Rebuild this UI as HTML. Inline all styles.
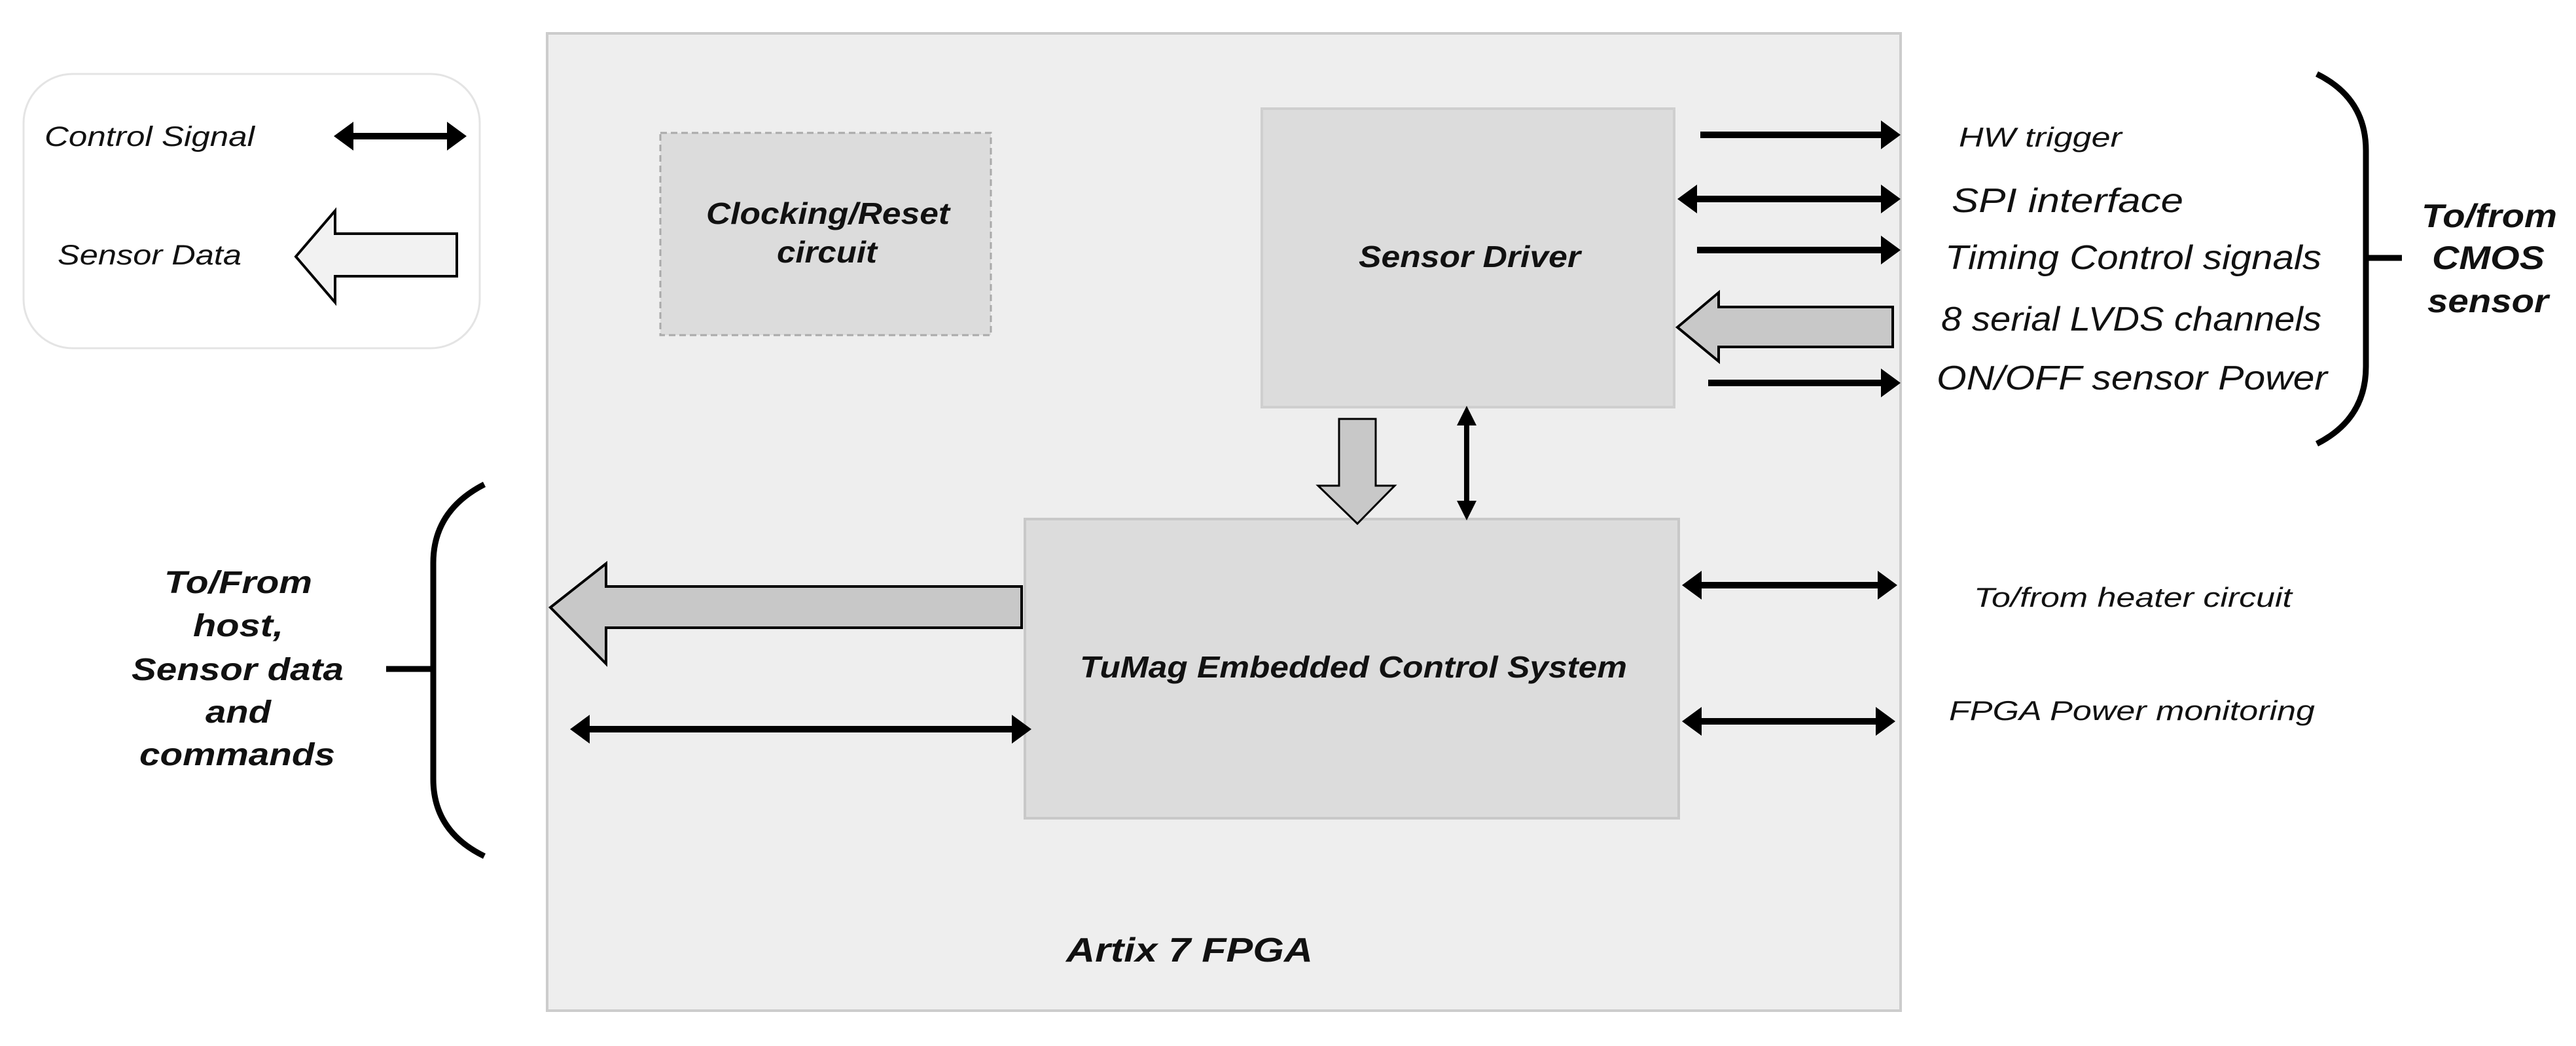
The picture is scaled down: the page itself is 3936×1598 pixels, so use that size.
<!DOCTYPE html>
<html><head><meta charset="utf-8"><style>
html,body{margin:0;padding:0;background:#fff;}
svg{display:block;}
text{font-family:"Liberation Sans",sans-serif;font-style:italic;fill:#111;}
.b{font-weight:bold;}
.n{font-family:"Liberation Sans Narrow","Liberation Sans",sans-serif;}
</style></head><body>
<svg width="3936" height="1598" viewBox="0 0 3936 1598" xmlns="http://www.w3.org/2000/svg">
<defs>
<g id="hd"><polygon points="0,0 -30,-20 -30,20" fill="#000"/></g>
</defs>
<!-- legend -->
<rect x="36" y="113" width="697" height="419" rx="75" fill="#fff" stroke="#e4e4e4" stroke-width="3"/>
<text x="68" y="223" font-size="43" textLength="321" lengthAdjust="spacingAndGlyphs" fill="#333">Control Signal</text>
<line x1="535" y1="208" x2="690" y2="208" stroke="#000" stroke-width="10"/>
<polygon points="510,208 540,186 540,230" fill="#000"/><polygon points="713,208 683,186 683,230" fill="#000"/>
<text x="88" y="404" font-size="43" textLength="281" lengthAdjust="spacingAndGlyphs" fill="#333">Sensor Data</text>
<polygon points="452,392 512,322 512,357 698,357 698,422 512,422 512,462" fill="#f2f2f2" stroke="#000" stroke-width="4"/>
<!-- FPGA -->
<rect x="836" y="51" width="2068" height="1493" fill="#eeeeee" stroke="#cccccc" stroke-width="4"/>
<rect x="1009" y="203" width="505" height="309" fill="#dcdcdc" stroke="#aaa" stroke-width="3" stroke-dasharray="10,6"/>
<text class="b" x="1079" y="342" font-size="46" textLength="372" lengthAdjust="spacingAndGlyphs">Clocking/Reset</text>
<text class="b" x="1187" y="401" font-size="46" textLength="153" lengthAdjust="spacingAndGlyphs">circuit</text>
<rect x="1928" y="166" width="630" height="456" fill="#dcdcdc" stroke="#cfcfcf" stroke-width="4"/>
<text class="b" x="2076" y="408" font-size="46" textLength="339" lengthAdjust="spacingAndGlyphs">Sensor Driver</text>
<rect x="1566" y="793" width="999" height="457" fill="#dcdcdc" stroke="#c8c8c8" stroke-width="4"/>
<text class="b" x="1650" y="1035" font-size="46" textLength="836" lengthAdjust="spacingAndGlyphs">TuMag Embedded Control System</text>
<text class="b" x="1629" y="1469" font-size="52" textLength="377" lengthAdjust="spacingAndGlyphs">Artix 7 FPGA</text>
<!-- down hollow arrow -->
<polygon points="2046,640 2102,640 2102,742 2131,742 2074,800 2014,742 2046,742" fill="#c8c8c8" stroke="#000" stroke-width="3"/>
<!-- vertical double arrow -->
<line x1="2241" y1="645" x2="2241" y2="770" stroke="#000" stroke-width="8"/>
<polygon points="2241,620 2226,650 2256,650" fill="#000"/><polygon points="2241,795 2226,765 2256,765" fill="#000"/>
<!-- right arrows -->
<line x1="2598" y1="206" x2="2880" y2="206" stroke="#000" stroke-width="10"/>
<polygon points="2904,206 2874,184 2874,228" fill="#000"/>
<line x1="2588" y1="304" x2="2880" y2="304" stroke="#000" stroke-width="10"/>
<polygon points="2563,304 2593,282 2593,326" fill="#000"/><polygon points="2904,304 2874,282 2874,326" fill="#000"/>
<line x1="2593" y1="382" x2="2880" y2="382" stroke="#000" stroke-width="10"/>
<polygon points="2904,382 2874,360 2874,404" fill="#000"/>
<polygon points="2563,500 2626,447 2626,469 2892,469 2892,530 2626,530 2626,552" fill="#c8c8c8" stroke="#000" stroke-width="4"/>
<line x1="2610" y1="585" x2="2880" y2="585" stroke="#000" stroke-width="10"/>
<polygon points="2904,585 2874,563 2874,607" fill="#000"/>
<line x1="2595" y1="894" x2="2875" y2="894" stroke="#000" stroke-width="10"/>
<polygon points="2570,894 2600,872 2600,916" fill="#000"/><polygon points="2899,894 2869,872 2869,916" fill="#000"/>
<line x1="2595" y1="1102" x2="2872" y2="1102" stroke="#000" stroke-width="10"/>
<polygon points="2570,1102 2600,1080 2600,1124" fill="#000"/><polygon points="2896,1102 2866,1080 2866,1124" fill="#000"/>
<text x="2993" y="224" font-size="42" textLength="249" lengthAdjust="spacingAndGlyphs" fill="#333">HW trigger</text>
<text class="n" x="2982" y="324" font-size="52" textLength="354" lengthAdjust="spacingAndGlyphs">SPI  interface</text>
<text class="n" x="2972" y="411" font-size="52" textLength="575" lengthAdjust="spacingAndGlyphs">Timing Control signals</text>
<text class="n" x="2966" y="505" font-size="52" textLength="581" lengthAdjust="spacingAndGlyphs">8 serial LVDS channels</text>
<text class="n" x="2959" y="595" font-size="52" textLength="597" lengthAdjust="spacingAndGlyphs">ON/OFF sensor Power</text>
<text x="3016" y="927" font-size="42" textLength="486" lengthAdjust="spacingAndGlyphs">To/from heater circuit</text>
<text x="2978" y="1100" font-size="42" textLength="559" lengthAdjust="spacingAndGlyphs">FPGA Power monitoring</text>
<!-- right bracket -->
<path d="M3540,113 Q3615,150 3615,230 L3615,560 Q3615,640 3540,678" fill="none" stroke="#000" stroke-width="9"/>
<line x1="3615" y1="394" x2="3670" y2="394" stroke="#000" stroke-width="9"/>
<text class="b" x="3700" y="347" font-size="50" textLength="207" lengthAdjust="spacingAndGlyphs">To/from</text>
<text class="b" x="3716" y="411" font-size="50" textLength="172" lengthAdjust="spacingAndGlyphs">CMOS</text>
<text class="b" x="3709" y="477" font-size="50" textLength="185" lengthAdjust="spacingAndGlyphs">sensor</text>
<!-- left side -->
<polygon points="841,928 926,861 926,896 1561,896 1561,959 926,959 926,1014" fill="#c8c8c8" stroke="#000" stroke-width="4"/>
<line x1="896" y1="1114" x2="1552" y2="1114" stroke="#000" stroke-width="10"/>
<polygon points="871,1114 901,1092 901,1136" fill="#000"/><polygon points="1576,1114 1546,1092 1546,1136" fill="#000"/>
<path d="M740,740 Q662,780 662,860 L662,1190 Q662,1270 740,1308" fill="none" stroke="#000" stroke-width="9"/>
<line x1="590" y1="1022" x2="662" y2="1022" stroke="#000" stroke-width="9"/>
<g fill="#333">
<text class="b" x="251" y="906" font-size="48" textLength="226" lengthAdjust="spacingAndGlyphs" fill="#333">To/From</text>
<text class="b" x="295" y="972" font-size="48" textLength="138" lengthAdjust="spacingAndGlyphs" fill="#333">host,</text>
<text class="b" x="201" y="1039" font-size="48" textLength="324" lengthAdjust="spacingAndGlyphs" fill="#333">Sensor data</text>
<text class="b" x="314" y="1104" font-size="48" textLength="100" lengthAdjust="spacingAndGlyphs" fill="#333">and</text>
<text class="b" x="213" y="1169" font-size="48" textLength="299" lengthAdjust="spacingAndGlyphs" fill="#333">commands</text>
</g>
</svg>
</body></html>
